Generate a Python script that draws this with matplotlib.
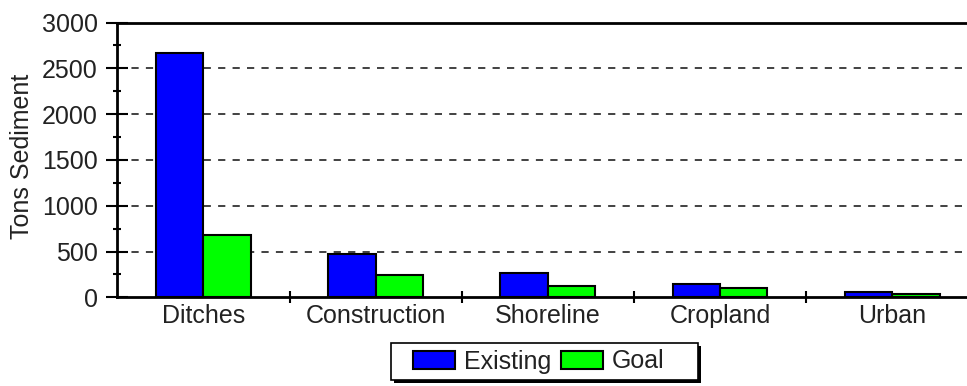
import matplotlib
matplotlib.use("Agg")
import matplotlib.pyplot as plt
from matplotlib.patches import Patch, Rectangle
import numpy as np

categories = ["Ditches", "Construction", "Shoreline", "Cropland", "Urban"]
existing = [2665, 470, 268, 145, 56]
goal = [675, 240, 125, 103, 36]
series_names = ["Existing", "Goal"]
colors = ["#0000ff", "#00ff00"]
yticks = [0, 500, 1000, 1500, 2000, 2500, 3000]

W, H = 967, 386
plt.rcParams["font.family"] = ["Liberation Sans", "DejaVu Sans"]
txt = "#222222"

fig = plt.figure(figsize=(W / 100, H / 100), dpi=100)
# axes in pixel terms: left spine at 117, y=0 at 297, y=3000 at 22.5
ax = fig.add_axes([117.3 / W, (H - 297.3) / H, (W - 117.3) / W, 274.8 / H])

x = np.arange(len(categories))
bw = 0.275
ax.bar(x - bw / 2, existing, bw, color=colors[0], edgecolor="black", linewidth=1.5, zorder=3)
ax.bar(x + bw / 2, goal, bw, color=colors[1], edgecolor="black", linewidth=1.5, zorder=3)

ax.set_xlim(-0.5, -0.5 + (W - 117.3) / 172.2)
ax.set_ylim(0, 3000)

ax.set_yticks(yticks)
ax.set_yticks(np.arange(250, 3000, 500), minor=True)
ax.tick_params(axis="y", which="major", direction="inout", length=16, width=1.5,
               labelsize=18, labelcolor=txt, pad=6)
ax.tick_params(axis="y", which="minor", direction="inout", length=6, width=1.5)

# category labels at centers, ticks at the boundaries between categories
ax.set_xticks(x)
ax.set_xticklabels(categories)
ax.set_xticks(x[:-1] + 0.5, minor=True)
ax.tick_params(axis="x", which="major", length=0, labelsize=18, labelcolor=txt, pad=5)
ax.tick_params(axis="x", which="minor", direction="inout", length=8, width=1.5)

for v in yticks[1:-1]:
    ax.axhline(v, color="#333333", linewidth=1.3, linestyle=(0, (4, 4)), zorder=1)

ax.spines["right"].set_visible(False)
for s in ["left", "bottom", "top"]:
    ax.spines[s].set_linewidth(2)
    ax.spines[s].set_color("black")

ax.set_ylabel("Tons Sediment", fontsize=18, color=txt)
ax.yaxis.set_label_coords(-(117.3 - 34) / (W - 117.3), (297.3 - 156) / 274.8)

# legend box with shadow
lx0, ly0, lw, lh = 391, 343, 307, 37
fig.patches.append(Rectangle(((lx0 + 3) / W, (H - ly0 - lh - 3) / H), lw / W, lh / H,
                             transform=fig.transFigure, facecolor="black",
                             edgecolor="none", zorder=5))
fig.patches.append(Rectangle((lx0 / W, (H - ly0 - lh) / H), lw / W, lh / H,
                             transform=fig.transFigure, facecolor="white",
                             edgecolor="black", linewidth=1.2, zorder=6))
handles = [Patch(facecolor=c, edgecolor="black", linewidth=1.5) for c in colors]
leg = fig.legend(handles, series_names, loc="center left", ncol=2, frameon=False,
                 bbox_to_anchor=((lx0 + 4) / W, (H - ly0 - lh / 2) / H),
                 fontsize=18, handlelength=1.68, handleheight=0.76,
                 handletextpad=0.36, columnspacing=0.4, borderpad=0.2,
                 labelcolor=txt)
leg.set_zorder(7)

fig.savefig("out.png", dpi=100)
